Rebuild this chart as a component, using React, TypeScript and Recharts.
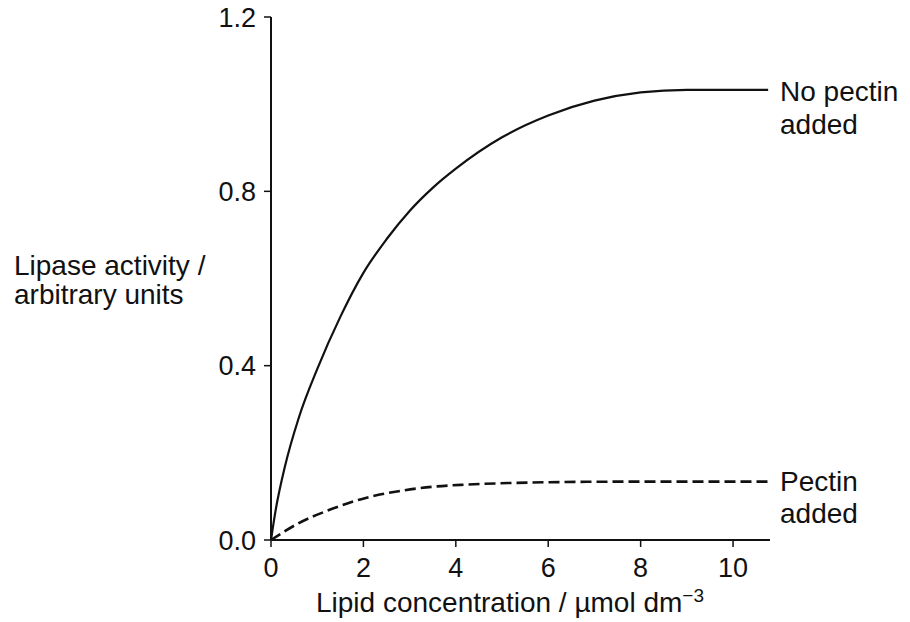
import React from "react";
import { LineChart, Line, XAxis, YAxis } from "recharts";

const noPectinX = [0, 0.1, 0.3, 0.6, 1.0, 1.5, 2.0, 2.5, 3.0, 3.5, 4.0, 5.0, 6.0, 7.0, 8.0, 9.0, 10.76];
const noPectinY = [0, 0.068, 0.168, 0.28, 0.392, 0.512, 0.613, 0.69, 0.755, 0.808, 0.852, 0.924, 0.974, 1.008, 1.027, 1.033, 1.033];

const pectinX = [0, 0.59, 1.31, 2.03, 2.76, 3.48, 4.2, 5.28, 6.36, 8.0, 10.76];
const pectinY = [0, 0.038, 0.071, 0.096, 0.112, 0.122, 0.127, 0.131, 0.133, 0.134, 0.134];

const xTicks = [0, 2, 4, 6, 8, 10];
const yTicks = [0, 0.4, 0.8, 1.2];

const noPectinData = noPectinX.map((x, i) => ({ x, y: noPectinY[i] }));
const pectinData = pectinX.map((x, i) => ({ x, y: pectinY[i] }));

const FONT = "'Liberation Sans', Arial, Helvetica, sans-serif";
const tickStyle = { fill: "#111", fontSize: 27, fontFamily: FONT };

const textStyle: React.CSSProperties = {
  position: "absolute",
  fontFamily: FONT,
  fontSize: 28,
  color: "#111",
  whiteSpace: "nowrap",
};

export default function App() {
  return (
    <div style={{ position: "absolute", left: 0, top: 0, width: 910, height: 622, background: "#fff" }}>
      <LineChart width={910} height={622} margin={{ top: 17, right: 140, bottom: 52, left: 211 }}>
        <XAxis
          type="number"
          dataKey="x"
          domain={[0, 10.8]}
          ticks={xTicks}
          allowDataOverflow
          stroke="#111"
          strokeWidth={2}
          tickSize={7}
          tickMargin={11}
          tick={tickStyle}
          tickLine={{ stroke: "#111", strokeWidth: 1.5 }}
          height={30}
        />
        <YAxis
          type="number"
          dataKey="y"
          domain={[0, 1.2]}
          ticks={yTicks}
          tickFormatter={(v: number) => v.toFixed(1)}
          stroke="#111"
          strokeWidth={2}
          tickSize={7}
          tickMargin={8}
          tick={tickStyle}
          tickLine={{ stroke: "#111", strokeWidth: 1.5 }}
          width={60}
        />
        <Line
          data={noPectinData}
          dataKey="y"
          type="monotone"
          stroke="#111"
          strokeWidth={2.2}
          dot={false}
          isAnimationActive={false}
        />
        <Line
          data={pectinData}
          dataKey="y"
          type="monotone"
          stroke="#111"
          strokeWidth={2.6}
          strokeDasharray="11 5"
          dot={false}
          isAnimationActive={false}
        />
      </LineChart>
      <div style={{ ...textStyle, left: 14, top: 251, lineHeight: "29px" }}>
        Lipase activity /<br />arbitrary units
      </div>
      <div style={{ ...textStyle, left: 316, top: 589, lineHeight: "28px" }}>
        Lipid concentration / µmol dm<sup style={{ fontSize: 19, verticalAlign: "10px", lineHeight: 0 }}>−3</sup>
      </div>
      <div style={{ ...textStyle, left: 780, top: 75, lineHeight: "33px" }}>
        No pectin<br />added
      </div>
      <div style={{ ...textStyle, left: 780, top: 466, lineHeight: "32px" }}>
        Pectin<br />added
      </div>
    </div>
  );
}
